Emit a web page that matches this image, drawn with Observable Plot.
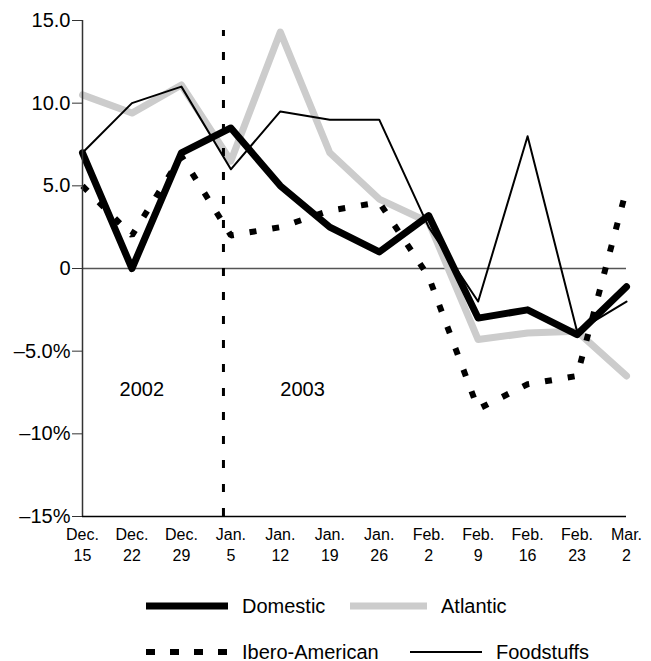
<!DOCTYPE html>
<html>
<head>
<meta charset="utf-8">
<script src="https://cdn.jsdelivr.net/npm/d3@7"></script>
<script src="https://cdn.jsdelivr.net/npm/@observablehq/plot@0.6"></script>
<style>
  html, body { margin: 0; padding: 0; background: #fff; }
  body { width: 651px; height: 661px; position: relative; overflow: hidden;
         font-family: "Liberation Sans", Arial, Helvetica, sans-serif; }
  #legend { position: absolute; left: 0; top: 580px; width: 651px; height: 81px; }
  .item { position: absolute; display: flex; align-items: center; font-size: 20px; color: #000; }
  .item svg { display: block; }
</style>
</head>
<body>
<div id="chart"></div>
<div id="legend"></div>
<script>
// ---- data ----
const weekLabels = ["Dec.\n15","Dec.\n22","Dec.\n29","Jan.\n5","Jan.\n12","Jan.\n19","Jan.\n26","Feb.\n2","Feb.\n9","Feb.\n16","Feb.\n23","Mar.\n2"];
const domestic   = [7.0, 0.0, 7.0, 8.5, 5.0, 2.5, 1.0, 3.2, -3.0, -2.5, -4.0, -1.1];
const atlantic   = [10.5, 9.4, 11.1, 6.5, 14.3, 7.0, 4.2, 2.8, -4.3, -3.9, -3.8, -6.5];
const ibero      = [5.0, 2.0, 6.8, 2.0, 2.5, 3.5, 4.0, -0.5, -8.5, -7.0, -6.5, 4.8];
const foodstuffs = [7.0, 10.0, 11.0, 6.0, 9.5, 9.0, 9.0, 2.5, -2.0, 8.0, -3.8, -2.0];
const seriesNames = ["Domestic", "Atlantic", "Ibero-American", "Foodstuffs"];
const yTicks = [15, 10, 5, 0, -5, -10, -15];
const yTickLabels = ["15.0", "10.0", "5.0", "0", "\u20135.0%", "\u201310%", "\u201315%"];
const yearLabels = ["2002", "2003"];

// ---- annotation placement (x in week index, y in %) ----
const yearLabelX = [1.2, 4.45];
const yearLabelY = -7.3;
const yearDivider = 2.85;
const dividerTop = 14.4;

const rows = (vals) => vals.map((v, i) => ({i, v}));

const styles = {
  "Domestic":       {stroke: "#000", strokeWidth: 7},
  "Atlantic":       {stroke: "#cccccc", strokeWidth: 7},
  "Ibero-American": {stroke: "#000", strokeWidth: 6, strokeDasharray: "7,16", strokeLinecap: "butt", strokeLinejoin: "miter"},
  "Foodstuffs":     {stroke: "#000", strokeWidth: 2}
};

const chart = Plot.plot({
  width: 651,
  height: 580,
  marginLeft: 82,
  marginRight: 25,
  marginTop: 20,
  marginBottom: 64,
  x: {domain: [0, weekLabels.length - 1]},
  y: {domain: [-15, 15]},
  style: {fontFamily: "'Liberation Sans', Arial, Helvetica, sans-serif", fontSize: "20px", color: "#000", background: "#fff", overflow: "visible"},
  marks: [
    Plot.ruleY([0], {stroke: "#555", strokeWidth: 1.5}),
    Plot.line(rows(atlantic), {x: "i", y: "v", ...styles["Atlantic"]}),
    Plot.line(rows(domestic), {x: "i", y: "v", ...styles["Domestic"]}),
    Plot.line(rows(ibero), {x: "i", y: "v", ...styles["Ibero-American"]}),
    Plot.line(rows(foodstuffs), {x: "i", y: "v", ...styles["Foodstuffs"]}),
    Plot.ruleX([yearDivider], {y1: -15, y2: dividerTop, stroke: "#000", strokeWidth: 3, strokeDasharray: "8,16"}),
    Plot.ruleX([0], {stroke: "#333", strokeWidth: 1.5}),
    Plot.ruleY([-15], {stroke: "#000", strokeWidth: 1.5}),
    Plot.axisY({ticks: yTicks, tickFormat: d => yTickLabels[yTicks.indexOf(d)], tickSize: 10, tickPadding: 2, fontSize: 20, stroke: "#333", label: null}),
    Plot.axisX({ticks: d3.range(weekLabels.length), tickFormat: i => weekLabels[i], tickSize: 0, tickPadding: 8, fontSize: 16, lineHeight: 1.35, label: null}),
    Plot.text(yearLabels, {x: (d, i) => yearLabelX[i], y: () => yearLabelY, text: d => d, fontSize: 20, fill: "#000"})
  ]
});
document.getElementById("chart").appendChild(chart);

// ---- legend ----
const legendItems = [
  {name: seriesNames[0], left: 146, top: 26, sample: 82},
  {name: seriesNames[1], left: 350, top: 26, sample: 77},
  {name: seriesNames[2], left: 146, top: 72, sample: 82},
  {name: seriesNames[3], left: 410, top: 72, sample: 72}
];
const legend = d3.select("#legend");
legendItems.forEach(it => {
  const s = styles[it.name];
  const div = legend.append("div").attr("class", "item")
    .style("left", it.left + "px").style("top", (it.top - 14) + "px").style("height", "28px");
  const svg = div.append("svg").attr("width", it.sample).attr("height", 28);
  svg.append("line").attr("x1", 0).attr("x2", it.sample).attr("y1", 14).attr("y2", 14)
    .attr("stroke", s.stroke).attr("stroke-width", s.strokeWidth)
    .attr("stroke-dasharray", s.strokeDasharray ? "9,15" : null);
  div.append("span").style("margin-left", "14px").text(it.name);
});
</script>
</body>
</html>
